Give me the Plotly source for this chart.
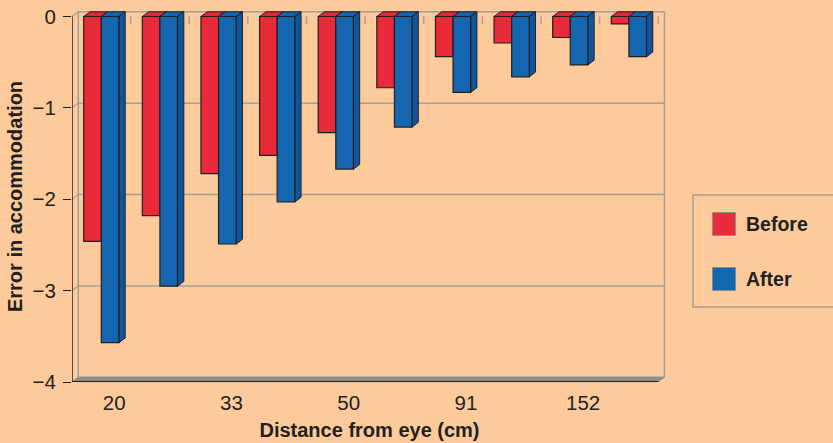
import plotly.graph_objects as go

# ---- data -------------------------------------------------------------
series_names = ["Before", "After"]
before = [-2.46, -2.18, -1.72, -1.52, -1.27, -0.78, -0.44, -0.29, -0.23, -0.08]
after = [-3.57, -2.95, -2.49, -2.03, -1.67, -1.21, -0.83, -0.66, -0.53, -0.44]
distance_labels = ["20", "33", "50", "91", "152"]
labeled_groups = [0, 2, 4, 6, 8]
y_ticks = [0, -1, -2, -3, -4]

# ---- style ------------------------------------------------------------
BG = "#FDCB9B"
INK = "#231F20"
GRID = "#A3A09C"
FLOOR = "#8E8C8A"
front_colors = ["#E92A3A", "#1466B0"]
top_colors = ["#E42838", "#1563AE"]
side_colors = ["#C42030", "#0E559E"]
FONT = "Liberation Sans, Arial, Helvetica, sans-serif"

W, H = 833, 443
ML, MR, MT, MB = 72, 166, 11, 61
PW, PH = W - ML - MR, H - MT - MB
X_RANGE = [-0.5, 9.65]
Y_RANGE = [-4.0, 0.06]
ux = PW / (X_RANGE[1] - X_RANGE[0])   # px per category
uy = PH / (Y_RANGE[1] - Y_RANGE[0])   # px per unit of error

# depth of the pseudo-3D extrusion, in data units
DX = 6.3 / ux
DY = 4.7 / uy
BAR_W = 0.3
n = len(before)


def px_x(px):
    return (px - ML) / PW


def px_y(py):
    return 1 - (py - MT) / PH


fig = go.Figure()
values = [before, after]
offsets = [-BAR_W, 0.0]
for name, vals, col in zip(series_names, values, front_colors):
    fig.add_trace(go.Bar(
        name=name, x=list(range(n)), y=vals,
        marker=dict(color=col, line=dict(color=INK, width=1.2)),
        showlegend=False,
    ))

shapes = []
left = X_RANGE[0]
right = n - 0.5

# back wall grid lines and left-wall connectors
for k in y_ticks:
    shapes.append(dict(type="line", xref="x", yref="y",
                       x0=left + DX, x1=right + DX, y0=k + DY, y1=k + DY,
                       line=dict(color=GRID, width=1.5), layer="below"))
    shapes.append(dict(type="line", xref="x", yref="y",
                       x0=left, x1=left + DX, y0=k, y1=k + DY,
                       line=dict(color=GRID, width=1.2), layer="below"))
# wall edges
shapes.append(dict(type="line", xref="x", yref="y",
                   x0=left + DX, x1=left + DX, y0=DY, y1=y_ticks[-1] + DY,
                   line=dict(color=GRID, width=1.5), layer="below"))
shapes.append(dict(type="line", xref="x", yref="y",
                   x0=right + DX, x1=right + DX, y0=DY, y1=y_ticks[-1] + DY,
                   line=dict(color=GRID, width=1.5), layer="below"))
# floor
fy = y_ticks[-1]
shapes.append(dict(type="path", xref="x", yref="y",
                   path=f"M {left},{fy} L {left+DX},{fy+DY} L {right+DX},{fy+DY} L {right},{fy} Z",
                   fillcolor=FLOOR, line=dict(color=FLOOR, width=0.5), layer="below"))
shapes.append(dict(type="line", xref="x", yref="y",
                   x0=left, x1=right, y0=fy, y1=fy,
                   line=dict(color=INK, width=2), layer="above"))
# front value axis line
shapes.append(dict(type="line", xref="x", yref="y",
                   x0=left, x1=left, y0=0, y1=fy,
                   line=dict(color=INK, width=1.5), layer="above"))
# category tick marks hanging from the zero line
for i in range(n):
    shapes.append(dict(type="line", xref="x", yref="y",
                       x0=i + 0.5, x1=i + 0.5, y0=0, y1=-7.5 / uy,
                       line=dict(color=GRID, width=1.5), layer="below"))

# top and side faces of each bar
for s, vals in enumerate(values):
    for i, v in enumerate(vals):
        x0 = i + offsets[s]
        x1 = x0 + BAR_W
        shapes.append(dict(type="path", xref="x", yref="y",
                           path=f"M {x0},0 L {x0+DX},{DY} L {x1+DX},{DY} L {x1},0 Z",
                           fillcolor=top_colors[s], line=dict(color=INK, width=1),
                           layer="below"))
        shapes.append(dict(type="path", xref="x", yref="y",
                           path=f"M {x1},0 L {x1+DX},{DY} L {x1+DX},{v+DY} L {x1},{v} Z",
                           fillcolor=side_colors[s], line=dict(color=INK, width=1),
                           layer="below"))

# legend box
shapes.append(dict(type="rect", xref="paper", yref="paper",
                   x0=px_x(693), x1=px_x(840), y0=px_y(307), y1=px_y(195),
                   line=dict(color="#A3A09C", width=1.5), fillcolor="rgba(0,0,0,0)"))
annotations = []
for s, (name, cy) in enumerate(zip(series_names, [224, 279])):
    shapes.append(dict(type="rect", xref="paper", yref="paper",
                       x0=px_x(712.5), x1=px_x(735.5), y0=px_y(cy + 11.5), y1=px_y(cy - 11.5),
                       fillcolor=front_colors[s], line=dict(color="#8E8C8A", width=1)))
    annotations.append(dict(xref="paper", yref="paper", x=px_x(744), y=px_y(cy),
                            xanchor="left", yanchor="middle", showarrow=False,
                            text=f"<b>{name}</b>", font=dict(size=19.5, color=INK, family=FONT)))

fig.update_layout(
    width=W, height=H,
    margin=dict(l=ML, r=MR, t=MT, b=MB, autoexpand=False),
    paper_bgcolor=BG, plot_bgcolor=BG,
    barmode="group", bargap=0.4, bargroupgap=0,
    font=dict(family=FONT, color=INK, size=20.5),
    shapes=shapes, annotations=annotations,
    showlegend=False,
    xaxis=dict(range=X_RANGE, showgrid=False, zeroline=False, showline=False,
               tickvals=[g + 0.22 for g in labeled_groups], ticktext=distance_labels,
               ticks="", ticklabelstandoff=6,
               title=dict(text="<b>Distance from eye (cm)</b>", standoff=10,
                          font=dict(size=20))),
    yaxis=dict(range=Y_RANGE, showgrid=False, zeroline=False, showline=False,
               tickvals=y_ticks, ticks="outside", ticklen=8, tickwidth=1.3,
               tickcolor=INK, ticklabelstandoff=3,
               title=dict(text="<b>Error in accommodation</b>", standoff=4,
                          font=dict(size=20))),
)

fig.write_html("out.html")
